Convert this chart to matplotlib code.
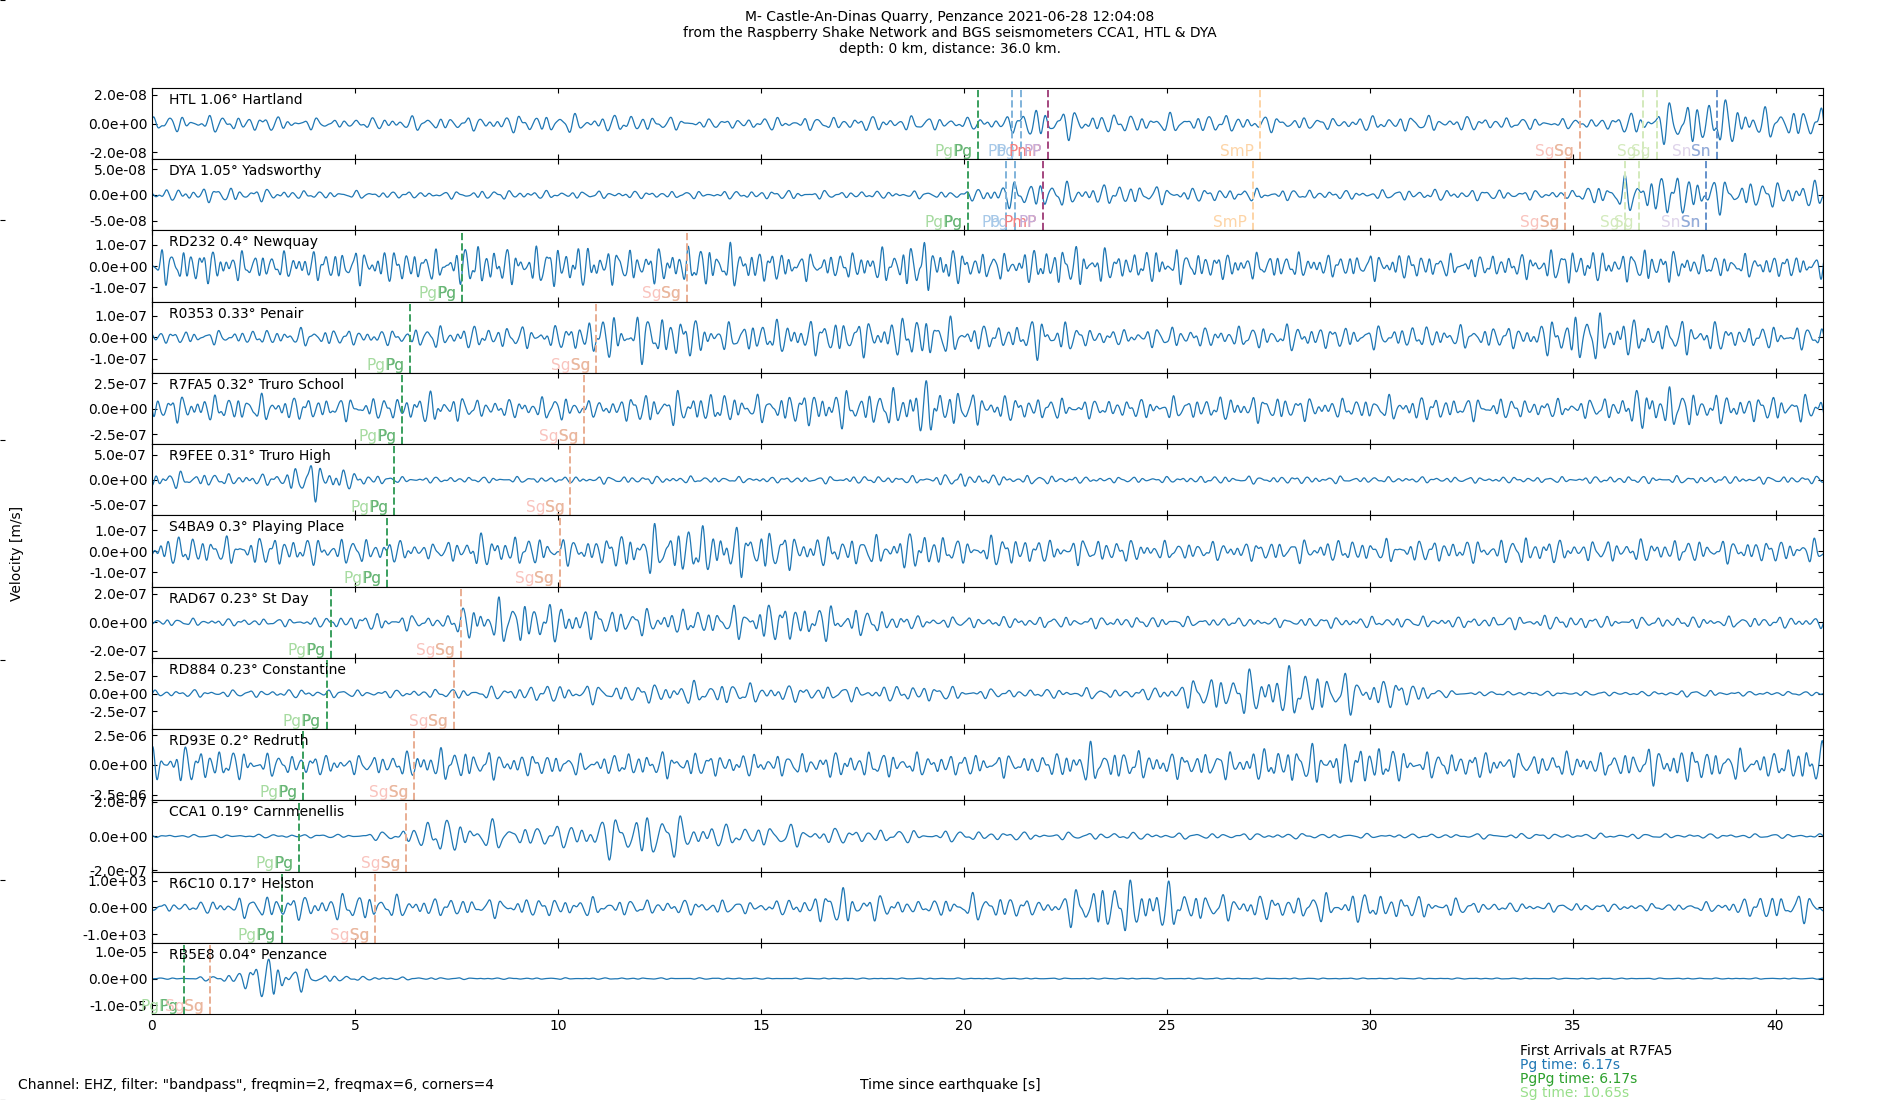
import numpy as np
import matplotlib
matplotlib.use('Agg')
import matplotlib.pyplot as plt
from matplotlib.ticker import FormatStrFormatter

plt.rcParams['xtick.direction'] = 'in'
plt.rcParams['ytick.direction'] = 'in'

title_lines = ['M- Castle-An-Dinas Quarry, Penzance 2021-06-28 12:04:08',
               'from the Raspberry Shake Network and BGS seismometers CCA1, HTL & DYA',
               'depth: 0 km, distance: 36.0 km.']

stations = ['HTL 1.06° Hartland', 'DYA 1.05° Yadsworthy', 'RD232 0.4° Newquay',
            'R0353 0.33° Penair', 'R7FA5 0.32° Truro School', 'R9FEE 0.31° Truro High',
            'S4BA9 0.3° Playing Place', 'RAD67 0.23° St Day', 'RD884 0.23° Constantine',
            'RD93E 0.2° Redruth', 'CCA1 0.19° Carnmenellis', 'R6C10 0.17° Helston',
            'RB5E8 0.04° Penzance']

# y limits and y tick value of each panel (m/s)
ylims = [2.48e-8, 6.9e-8, 1.68e-7, 1.66e-7, 3.5e-7, 7.1e-7, 1.69e-7, 2.5e-7,
         5.06e-7, 3.0e-6, 2.09e-7, 1.33e3, 1.33e-5]
ytick_vals = [2.0e-8, 5.0e-8, 1.0e-7, 1.0e-7, 2.5e-7, 5.0e-7, 1.0e-7, 2.0e-7,
              2.5e-7, 2.5e-6, 2.0e-7, 1.0e3, 1.0e-5]
# dominant frequency of each trace (Hz)
freqs = [3.0, 3.2, 4.0, 3.5, 3.6, 3.5, 3.5, 3.3, 3.0, 3.5, 2.6, 3.1, 3.0]

# amplitude envelope, one value per second (t = 0..41 s),
# as a fraction of the panel y limit
env_htl = [0.2, 0.22, 0.22, 0.2, 0.15, 0.12, 0.2, 0.18, 0.18, 0.24, 0.26, 0.22, 0.25, 0.15, 0.12,
           0.17, 0.17, 0.18, 0.2, 0.2, 0.15, 0.2, 0.5, 0.3, 0.25, 0.25, 0.25, 0.22, 0.2,
           0.15, 0.2, 0.22, 0.2, 0.18, 0.15, 0.13, 0.18, 0.45, 0.72, 0.6, 0.35, 0.5]
env_dya = [0.1, 0.2, 0.2, 0.15, 0.1, 0.1, 0.1, 0.08, 0.12, 0.12, 0.1, 0.1, 0.1, 0.1, 0.1,
           0.12, 0.12, 0.1, 0.1, 0.1, 0.1, 0.35, 0.4, 0.25, 0.3, 0.22, 0.18, 0.17, 0.15,
           0.12, 0.12, 0.15, 0.15, 0.15, 0.12, 0.12, 0.4, 0.6, 0.55, 0.4, 0.35, 0.35]
env_rd232 = [0.45, 0.5, 0.4, 0.35, 0.4, 0.45, 0.45, 0.4, 0.6, 0.45, 0.6, 0.5, 0.45, 0.5, 0.6,
             0.45, 0.35, 0.35, 0.45, 0.7, 0.4, 0.35, 0.5, 0.55, 0.35, 0.5, 0.35, 0.35, 0.35,
             0.3, 0.35, 0.35, 0.3, 0.3, 0.35, 0.5, 0.35, 0.5, 0.3, 0.3, 0.3, 0.3]
env_r0353 = [0.15, 0.18, 0.18, 0.2, 0.25, 0.2, 0.2, 0.3, 0.3, 0.3, 0.3, 0.55, 0.65, 0.6, 0.35,
             0.45, 0.45, 0.5, 0.45, 0.65, 0.4, 0.3, 0.6, 0.25, 0.2, 0.3, 0.25, 0.3, 0.35,
             0.3, 0.3, 0.3, 0.3, 0.3, 0.3, 0.7, 0.6, 0.35, 0.5, 0.3, 0.3, 0.3]
env_r7fa5 = [0.35, 0.35, 0.35, 0.35, 0.3, 0.3, 0.3, 0.45, 0.25, 0.25, 0.35, 0.2, 0.4, 0.45, 0.4,
             0.35, 0.45, 0.5, 0.45, 0.75, 0.45, 0.35, 0.3, 0.25, 0.25, 0.3, 0.3, 0.35, 0.35,
             0.25, 0.3, 0.35, 0.3, 0.3, 0.25, 0.25, 0.3, 0.65, 0.45, 0.35, 0.35, 0.35]
env_r9fee = [0.25, 0.2, 0.15, 0.15, 0.55, 0.2, 0.08, 0.08, 0.08, 0.08, 0.08, 0.1, 0.1, 0.1, 0.08,
             0.08, 0.08, 0.1, 0.1, 0.1, 0.2, 0.12, 0.12, 0.08, 0.08, 0.08, 0.1, 0.1, 0.1,
             0.1, 0.08, 0.08, 0.08, 0.08, 0.08, 0.08, 0.1, 0.1, 0.1, 0.1, 0.1, 0.1]
env_s4ba9 = [0.4, 0.4, 0.35, 0.4, 0.35, 0.35, 0.3, 0.2, 0.45, 0.4, 0.35, 0.35, 0.6, 0.7, 0.65,
             0.65, 0.4, 0.4, 0.4, 0.55, 0.3, 0.45, 0.3, 0.35, 0.3, 0.25, 0.25, 0.25, 0.3,
             0.3, 0.3, 0.3, 0.3, 0.3, 0.4, 0.25, 0.3, 0.3, 0.3, 0.3, 0.3, 0.3]
env_rad67 = [0.1, 0.1, 0.1, 0.1, 0.12, 0.2, 0.25, 0.12, 0.55, 0.65, 0.5, 0.4, 0.35, 0.35, 0.35,
             0.55, 0.5, 0.45, 0.3, 0.15, 0.15, 0.15, 0.15, 0.15, 0.15, 0.15, 0.12, 0.12, 0.12,
             0.15, 0.15, 0.15, 0.15, 0.15, 0.2, 0.18, 0.15, 0.15, 0.15, 0.15, 0.15, 0.15]
env_rd884 = [0.1, 0.1, 0.1, 0.1, 0.12, 0.1, 0.1, 0.12, 0.15, 0.2, 0.25, 0.25, 0.25, 0.3, 0.32,
             0.25, 0.22, 0.2, 0.2, 0.25, 0.15, 0.12, 0.12, 0.15, 0.12, 0.2, 0.5, 0.6, 0.72,
             0.6, 0.45, 0.35, 0.07, 0.06, 0.06, 0.06, 0.06, 0.06, 0.1, 0.06, 0.06, 0.06]
env_rd93e = [0.45, 0.5, 0.4, 0.3, 0.28, 0.25, 0.3, 0.45, 0.4, 0.3, 0.3, 0.25, 0.35, 0.35, 0.3,
             0.3, 0.3, 0.35, 0.35, 0.3, 0.3, 0.3, 0.25, 0.55, 0.4, 0.35, 0.35, 0.4, 0.5,
             0.55, 0.6, 0.35, 0.35, 0.35, 0.3, 0.35, 0.3, 0.5, 0.45, 0.4, 0.35, 0.65]
env_cca1 = [0.04, 0.04, 0.04, 0.05, 0.05, 0.05, 0.15, 0.5, 0.45, 0.3, 0.3, 0.5, 0.7, 0.55, 0.3,
            0.3, 0.3, 0.2, 0.2, 0.15, 0.15, 0.12, 0.1, 0.1, 0.1, 0.08, 0.08, 0.08, 0.08,
            0.06, 0.06, 0.06, 0.06, 0.07, 0.08, 0.06, 0.08, 0.06, 0.06, 0.06, 0.06, 0.06]
env_r6c10 = [0.12, 0.12, 0.25, 0.35, 0.3, 0.4, 0.3, 0.25, 0.25, 0.25, 0.25, 0.25, 0.2, 0.2, 0.2,
             0.15, 0.25, 0.55, 0.3, 0.15, 0.35, 0.35, 0.15, 0.65, 0.72, 0.65, 0.35, 0.35, 0.3,
             0.4, 0.4, 0.3, 0.25, 0.12, 0.12, 0.12, 0.1, 0.1, 0.1, 0.2, 0.4, 0.35]
env_rb5e8 = [0.02, 0.02, 0.15, 0.7, 0.15, 0.06, 0.04, 0.03, 0.02, 0.02, 0.02, 0.02, 0.02, 0.02, 0.02,
             0.015, 0.015, 0.015, 0.015, 0.015, 0.015, 0.015, 0.015, 0.015, 0.015, 0.015, 0.015,
             0.015, 0.015, 0.015, 0.015, 0.015, 0.015, 0.015, 0.015, 0.015, 0.015, 0.015, 0.015,
             0.015, 0.015, 0.015]
envelopes = [env_htl, env_dya, env_rd232, env_r0353, env_r7fa5, env_r9fee, env_s4ba9,
             env_rad67, env_rd884, env_rd93e, env_cca1, env_r6c10, env_rb5e8]

# phase arrivals (s) per panel
arrivals = [
    [('PgPg', 20.35), ('Pb', 21.2), ('Pg', 21.42), ('PmP', 22.08), ('PP', 22.08),
     ('SmP', 27.3), ('SgSg', 35.17), ('Sg', 36.73), ('Sg', 37.07), ('Sn', 38.55)],
    [('PgPg', 20.11), ('Pb', 21.04), ('Pg', 21.25), ('PmP', 21.95), ('PP', 21.95),
     ('SmP', 27.12), ('SgSg', 34.82), ('Sg', 36.3), ('Sg', 36.64), ('Sn', 38.29)],
    [('PgPg', 7.64), ('SgSg', 13.18)],
    [('PgPg', 6.36), ('SgSg', 10.95)],
    [('PgPg', 6.17), ('SgSg', 10.65)],
    [('PgPg', 5.97), ('SgSg', 10.31)],
    [('PgPg', 5.8), ('SgSg', 10.04)],
    [('PgPg', 4.42), ('SgSg', 7.61)],
    [('PgPg', 4.3), ('SgSg', 7.43)],
    [('PgPg', 3.73), ('SgSg', 6.46)],
    [('PgPg', 3.63), ('SgSg', 6.26)],
    [('PgPg', 3.2), ('SgSg', 5.5)],
    [('PgPg', 0.8), ('SgSg', 1.42)],
]

# line colour and label layers per phase
phase_style = {
    'PgPg': ('#3a9f5e', [('PgPg', '#a6dba0'), ('Pg', '#66b477')]),
    'Pb': ('#80b3da', [('Pb', '#a6c8e8')]),
    'Pg': ('#80b3da', [('Pg', '#a6c8e8')]),
    'PmP': (None, [('PmP', '#f47f7f')]),
    'PP': ('#a4467f', [('PP', '#c5add9')]),
    'SmP': ('#fdd4a6', [('SmP', '#fdd4a6')]),
    'SgSg': ('#e9ae93', [('SgSg', '#f9c3bd'), ('Sg', '#e8b89c')]),
    'Sg': ('#d3eabc', [('Sg', '#d3eabc')]),
    'Sn': ('#6592cb', [('SnSn', '#ded3ea'), ('Sn', '#8eabd8')]),
}

arrival_info = [('First Arrivals at R7FA5', 'black'), ('Pg time: 6.17s', '#1f77b4'),
                ('PgPg time: 6.17s', '#2ca02c'), ('Sg time: 10.65s', '#98df8a')]

t = np.arange(0, 41.2, 0.01)
t_env = np.arange(42)

fig = plt.figure(figsize=(19, 11), dpi=100)
bg = fig.add_axes([0, 0, 1, 1], frameon=False)
bg.tick_params(labelleft=False, labelbottom=False, bottom=False)

axes = fig.subplots(13, 1, sharex=True)
fig.subplots_adjust(left=0.08, right=0.9595, top=0.92, bottom=0.078, hspace=0)

for k, ax in enumerate(axes):
    f = freqs[k]
    # band-passed look: a few mixed oscillations shaped by the read envelope
    wave = (0.50 * np.sin(2 * np.pi * f * t + 0.9 * k)
            + 0.40 * np.sin(2 * np.pi * 1.41 * f * t + 2.1 * k + 1.0)
            + 0.35 * np.sin(2 * np.pi * 0.73 * f * t + 1.3 * k + 2.0)
            + 0.15 * np.sin(2 * np.pi * 1.93 * f * t + 0.7 * k)) / 1.1
    amp = np.interp(t, t_env, envelopes[k]) * ylims[k]
    ax.plot(t, wave * amp, color='#1f77b4', lw=0.9)
    ax.set_ylim(-ylims[k], ylims[k])
    ax.set_yticks([-ytick_vals[k], 0, ytick_vals[k]])
    ax.yaxis.set_major_formatter(FormatStrFormatter('%.1e'))
    ax.tick_params(top=True, right=True, labelsize=10)
    ax.text(0.0103, 0.93, stations[k], transform=ax.transAxes, va='top', fontsize=10)
    for phase, at in arrivals[k]:
        lc, layers = phase_style[phase]
        if lc:
            ax.axvline(at, color=lc, ls='--', lw=1.4)
        for label, tc in layers:
            ax.annotate(label, xy=(at, 0), xycoords=('data', 'axes fraction'),
                        xytext=(-4.3, 2.4), textcoords='offset points',
                        ha='right', va='baseline', color=tc, fontsize=11)

axes[-1].set_xlim(0, 41.17)
axes[-1].set_xticks(range(0, 41, 5))

fig.text(0.5, 0.9845, title_lines[0], ha='center', va='center', fontsize=10)
fig.text(0.5, 0.970, title_lines[1], ha='center', va='center', fontsize=10)
fig.text(0.5, 0.9557, title_lines[2], ha='center', va='center', fontsize=10)
fig.text(0.009, 0.497, 'Velocity [m/s]', rotation=90, ha='center', va='center', fontsize=10)
fig.text(0.5, 0.0136, 'Time since earthquake [s]', ha='center', va='center', fontsize=10)
fig.text(0.0096, 0.0136, 'Channel: EHZ, filter: "bandpass", freqmin=2, freqmax=6, corners=4',
         va='center', fontsize=10)
for i, (txt, c) in enumerate(arrival_info):
    fig.text(0.80, 0.0445 - i * 0.0127, txt, color=c, va='center', fontsize=10)

fig.savefig('out.png', dpi=100)
